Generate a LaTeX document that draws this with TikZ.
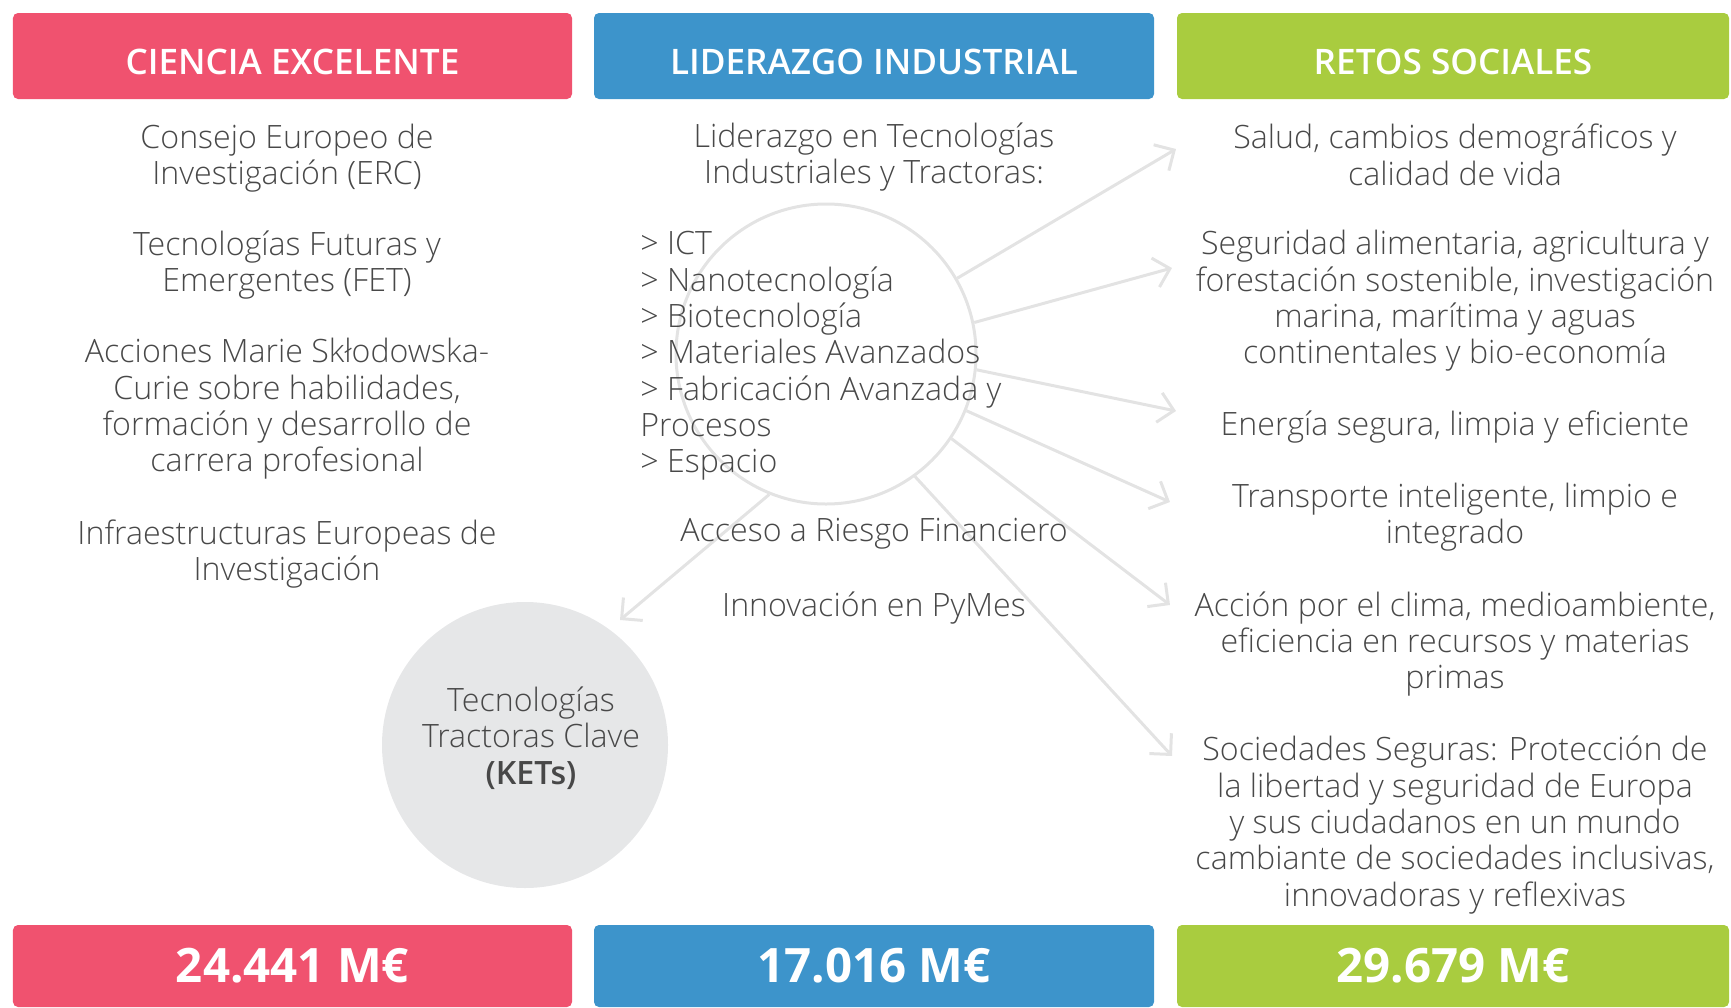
\documentclass[tikz,border=0pt]{standalone}
\usepackage{fontspec}
\setmainfont{Open Sans}
\IfFontExistsTF{Open Sans Light}{\newfontfamily\lightfont{Open Sans Light}}{\let\lightfont\relax}
\IfFontExistsTF{Open Sans Semibold}{\newfontfamily\semifont{Open Sans Semibold}}{\newcommand\semifont{\bfseries}}
\usetikzlibrary{arrows.meta,positioning,calc}
\definecolor{cienciared}{HTML}{F0526F}
\definecolor{liderblue}{HTML}{3D94CB}
\definecolor{retosgreen}{HTML}{A9CC3F}
\definecolor{bodygray}{HTML}{484848}
\definecolor{ringgray}{HTML}{E3E3E3}
\definecolor{ketsgray}{HTML}{E6E7E8}

\tikzset{
  bar/.style={fill=#1, text=white, rounded corners=1mm, inner sep=0pt},
  headbar/.style={bar=#1, minimum height=17.2mm, text height=7.3mm, text depth=0pt, font=\semifont\fontsize{20}{24}\selectfont},
  sumbar/.style={bar=#1, minimum height=16.4mm, font=\fontsize{27}{32}\selectfont\bfseries},
  body/.style={text=bodygray, align=center, inner sep=0pt, font=\lightfont\fontsize{18.3}{20.7}\selectfont},
  spoke/.style={draw=ringgray, line width=0.6mm, -{Straight Barb[length=3mm, width=6mm]}},
}

\begin{document}
\begin{tikzpicture}[x=0.2mm, y=-0.2mm]
    \useasboundingbox (0,0) rectangle (1731,1007);
    % column headers
    \node[headbar=cienciared, minimum width=111.8mm] (hdA) at (292.5,56) {CIENCIA EXCELENTE};
    \node[headbar=liderblue, minimum width=112mm] (hdB) at (874,56) {LIDERAZGO INDUSTRIAL};
    \node[headbar=retosgreen, minimum width=110.4mm] (hdC) at (1453,56) {RETOS SOCIALES};
    % budgets
    \node[sumbar=cienciared, minimum width=111.8mm] (sumA) at (292.5,966) {24.441 M€};
    \node[sumbar=liderblue, minimum width=112mm] (sumB) at (874,966) {17.016 M€};
    \node[sumbar=retosgreen, minimum width=110.4mm] (sumC) at (1453,966) {29.679 M€};
    % circles
    \node[circle, draw=ringgray, line width=0.6mm, minimum size=60mm] (ring) at (826,354) {};
    \node[circle, fill=ketsgray, minimum size=57.2mm, inner sep=0pt] (kets) at (525,745) {};
    % arrow tips
    \coordinate (t1) at (1176,149);
    \coordinate (t2) at (1172,268);
    \coordinate (t3) at (1176,411);
    \coordinate (t4) at (1170,502);
    \coordinate (t5) at (1170,605);
    \coordinate (t6) at (1172,756);
    \coordinate (t7) at (620,620);
    \foreach \ang/\tip in {30.2/t1, 12/t2, -6/t3, -22.4/t4, -34.2/t5, -54.6/t6, -112/t7}
        \draw[spoke] (ring.\ang) -- (\tip);
    % ciencia excelente
    \node[body] (erc) at (287,158) {Consejo Europeo de\\Investigación (ERC)};
    \node[body] (fet) at (287,265) {Tecnologías Futuras y\\Emergentes (FET)};
    \node[body] (msca) at (287,409) {Acciones Marie Skłodowska-\\Curie sobre habilidades,\\formación y desarrollo de\\carrera profesional};
    \node[body] (infra) at (287,554) {Infraestructuras Europeas de\\Investigación};
    % liderazgo industrial
    \node[body] (leit) at (874,157) {Liderazgo en Tecnologías\\Industriales y Tractoras:};
    \node[body, align=left, anchor=west] (areas) at (640,356) {> ICT\\> Nanotecnología\\> Biotecnología\\> Materiales Avanzados\\> Fabricación Avanzada y\\Procesos\\> Espacio};
    \node[body] (riesgo) at (874,534) {Acceso a Riesgo Financiero};
    \node[body] (pymes) at (874,608) {Innovación en PyMes};
    \node[body] at (531,738) (ketstext) {Tecnologías\\Tractoras Clave\\\textbf{(KETs)}};
    % retos sociales
    \node[body] (salud) at (1455,155) {Salud, cambios demográficos y\\calidad de vida};
    \node[body] (alim) at (1455,301) {Seguridad alimentaria, agricultura y\\forestación sostenible, investigación\\marina, marítima y aguas\\continentales y bio-economía};
    \node[body] (energia) at (1455,427) {Energía segura, limpia y eficiente};
    \node[body] (transp) at (1455,517) {Transporte inteligente, limpio e\\integrado};
    \node[body] (clima) at (1455,644) {Acción por el clima, medioambiente,\\eficiencia en recursos y materias\\primas};
    \node[body] (segur) at (1455,825) {Sociedades Seguras: Protección de\\la libertad y seguridad de Europa\\y sus ciudadanos en un mundo\\cambiante de sociedades inclusivas,\\innovadoras y reflexivas};
\end{tikzpicture}
\end{document}
